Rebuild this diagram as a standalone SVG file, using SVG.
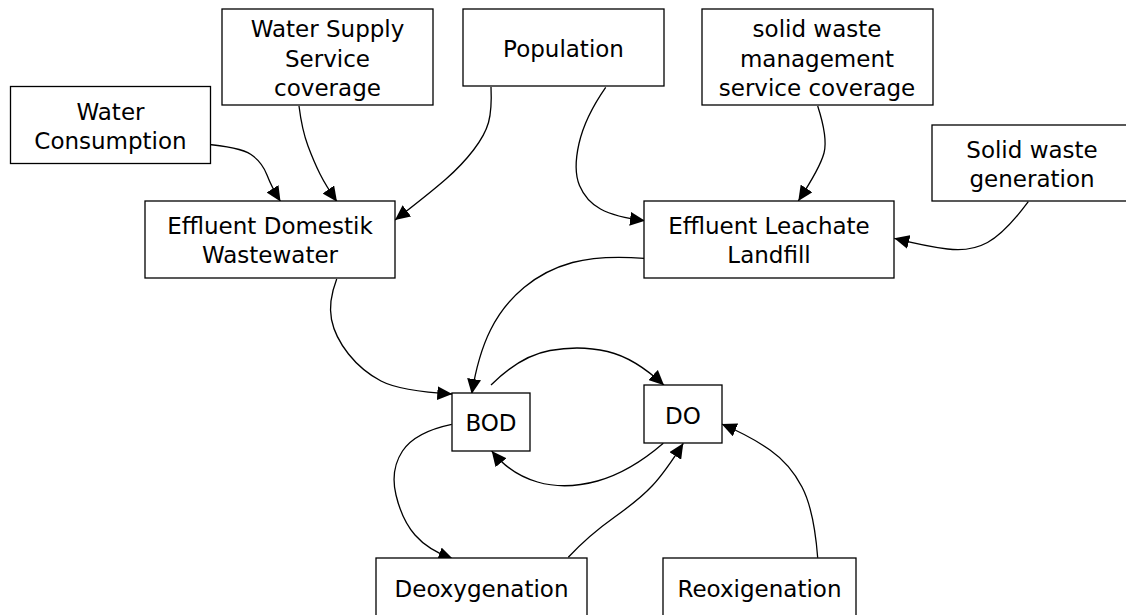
<svg xmlns="http://www.w3.org/2000/svg" width="1126" height="615" viewBox="0 0 1126 615">
<defs>
<style>
.box{fill:#fff;stroke:#000;stroke-width:1.3}
.lbl{font-family:"DejaVu Sans","Liberation Sans",sans-serif;font-size:23px;fill:#000;text-anchor:middle}
.edge{fill:none;stroke:#000;stroke-width:1.3;stroke-linejoin:round;marker-end:url(#ah)}
</style>
<marker id="ah" markerWidth="15" markerHeight="14" refX="15" refY="7" orient="auto" markerUnits="userSpaceOnUse">
<path d="M0,0 L15,7 L0,14 z" fill="#000"/>
</marker>
</defs>
<rect width="1126" height="615" fill="#fff"/>
<g id="connectors">
<path class="edge" d="M202.7,144 Q240,147 251,154.5 Q262,162 267,175 Q272,188 280.5,201.5"/>
<path class="edge" d="M299,106 Q302,130 308,146 Q314,162 320,174 Q326,186 337,201.7"/>
<path class="edge" d="M491,87 Q492,110 488.5,122.5 Q485,135 473.5,150 Q462,165 446,179 Q430,193 395,220"/>
<path class="edge" d="M605.7,87.3 Q585,117 579,143.5 Q573,170 579.5,185.5 Q586,201 600.5,209 Q615,217 645,220.7"/>
<path class="edge" d="M817.7,106 Q828,138 824,153 Q820,168 798.3,201"/>
<path class="edge" d="M1028.3,201.7 Q1005,233 987.5,242.5 Q970,252 947.5,249 Q925,246 894.3,238.3"/>
<path class="edge" d="M336.7,279 Q328,302 331.5,319.5 Q335,337 348.5,354 Q362,371 381,381 Q400,391 452.3,394"/>
<path class="edge" d="M644.3,258.3 Q600,255 572.5,262.5 Q545,270 524,287.5 Q503,305 490.5,330 Q478,355 471.7,394"/>
<path class="edge" d="M491,385 Q520,356 550,350.5 Q580,345 607.5,351.5 Q635,358 664,385.3"/>
<path class="edge" d="M663.3,443.3 Q630,472 597.5,481 Q565,490 537.5,482 Q510,474 491.7,451"/>
<path class="edge" d="M451.7,424.3 Q415,432 402.5,451 Q390,470 396,495 Q402,520 415,535 Q428,550 453.3,559.3"/>
<path class="edge" d="M568.3,557.3 Q588,536 614,517.5 Q640,499 652.5,485.5 Q665,472 683.3,443.3"/>
<path class="edge" d="M817.7,557.7 Q814,510 802,487 Q790,464 770,450 Q750,436 721.7,424"/>
</g>
<g id="water-consumption">
<rect class="box" x="10.5" y="86.5" width="200" height="77"/>
<text class="lbl" x="110.5" y="120">Water</text>
<text class="lbl" x="110.5" y="149">Consumption</text>
</g>
<g id="water-supply">
<rect class="box" x="222" y="9" width="211" height="96"/>
<text class="lbl" x="327.5" y="37.3">Water Supply</text>
<text class="lbl" x="327.5" y="66.7">Service</text>
<text class="lbl" x="327.5" y="95.7">coverage</text>
</g>
<g id="effluent-domestik">
<rect class="box" x="145" y="201" width="250" height="77"/>
<text class="lbl" x="270" y="234.3">Effluent Domestik</text>
<text class="lbl" x="270" y="263.3">Wastewater</text>
</g>
<g id="population">
<rect class="box" x="463" y="9" width="201" height="77"/>
<text class="lbl" x="563.5" y="57.3">Population</text>
</g>
<g id="solid-waste-management">
<rect class="box" x="702" y="9" width="231" height="96"/>
<text class="lbl" x="817" y="37.3">solid waste</text>
<text class="lbl" x="817" y="66.7">management</text>
<text class="lbl" x="817" y="95.7">service coverage</text>
</g>
<g id="solid-waste-generation">
<rect class="box" x="932" y="125" width="200" height="76"/>
<text class="lbl" x="1032" y="157.7">Solid waste</text>
<text class="lbl" x="1032" y="186.7">generation</text>
</g>
<g id="effluent-leachate">
<rect class="box" x="644" y="201" width="250" height="77"/>
<text class="lbl" x="769" y="234.3">Effluent Leachate</text>
<text class="lbl" x="769" y="263.3">Landfill</text>
</g>
<g id="bod">
<rect class="box" x="452" y="393" width="78" height="58"/>
<text class="lbl" x="491" y="431">BOD</text>
</g>
<g id="do">
<rect class="box" x="644" y="385" width="78" height="58"/>
<text class="lbl" x="683" y="423.7">DO</text>
</g>
<g id="deoxygenation">
<rect class="box" x="376" y="558" width="211" height="77"/>
<text class="lbl" x="481.5" y="596.7">Deoxygenation</text>
</g>
<g id="reoxigenation">
<rect class="box" x="663" y="558" width="193" height="77"/>
<text class="lbl" x="759.5" y="596.7">Reoxigenation</text>
</g>
</svg>
